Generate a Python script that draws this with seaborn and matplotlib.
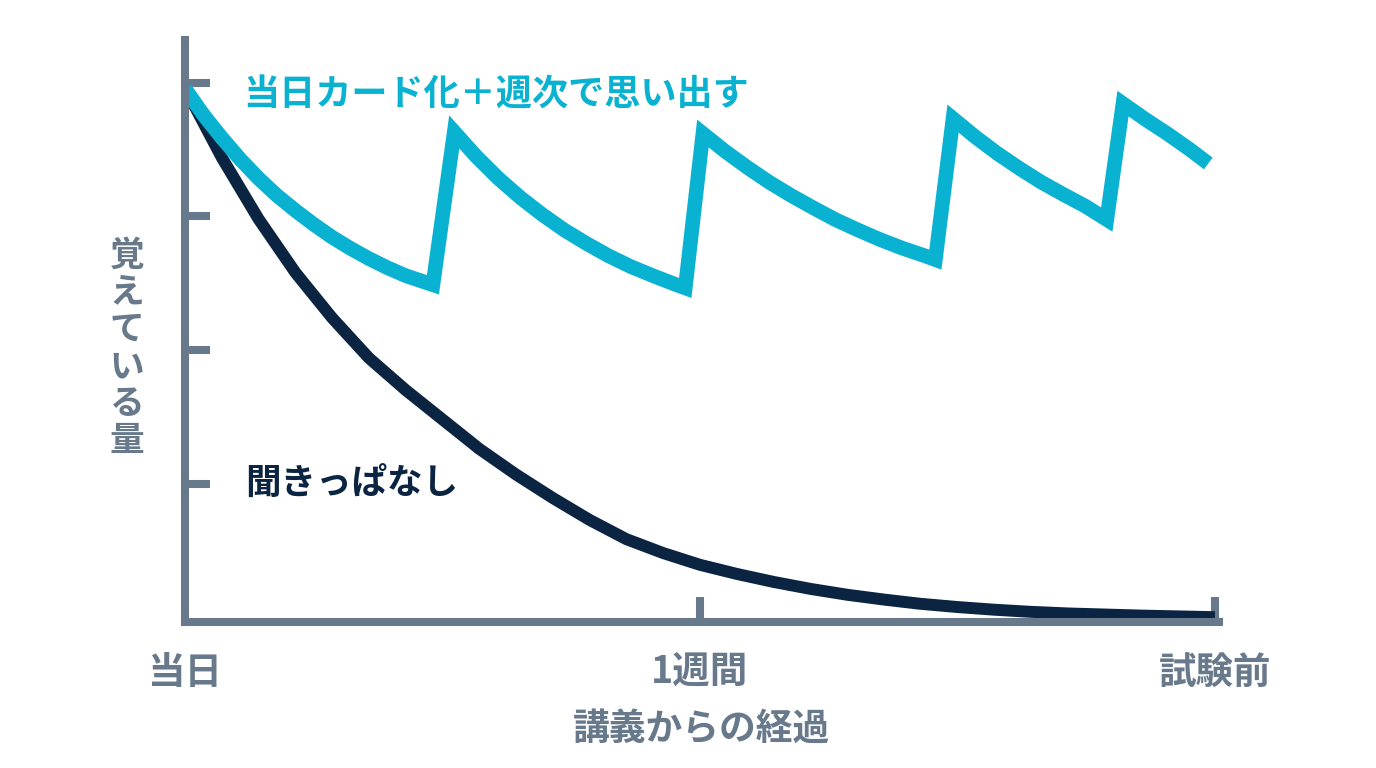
import pandas as pd
import matplotlib
matplotlib.use("Agg")
import matplotlib.pyplot as plt
import seaborn as sns

# Colours
CYAN = "#08b2d0"
NAVY = "#0b2442"
SLATE = "#68798b"

# Data (days since lecture, amount remembered)
review_days = [0.0, 0.25, 0.5, 0.75, 1.0, 1.25, 1.5, 1.75, 2.0, 2.25, 2.5, 2.75, 3.0, 3.37,
               3.66, 3.96, 4.26, 4.56, 4.86, 5.16, 5.46, 5.76, 6.06, 6.36, 6.66, 6.80,
               7.04, 7.34, 7.64, 7.94, 8.24, 8.54, 8.84, 9.14, 9.44, 9.74, 10.04, 10.20,
               10.44, 10.74, 11.04, 11.34, 11.64, 11.94, 12.24, 12.53,
               12.75, 13.05, 13.35, 13.65, 13.91]
review_vals = [98.9, 94.0, 89.7, 85.7, 82.1, 78.9, 76.1, 73.5, 71.1, 69.0, 67.1, 65.4, 63.9, 62.2,
               90.8, 86.2, 82.1, 78.5, 75.3, 72.4, 69.9, 67.6, 65.6, 63.9, 62.3, 61.6,
               90.5, 87.2, 84.2, 81.4, 78.9, 76.6, 74.4, 72.5, 70.7, 69.1, 67.7, 66.9,
               93.3, 89.9, 86.8, 84.0, 81.4, 79.1, 76.9, 74.4,
               96.1, 93.2, 90.5, 87.6, 84.9]

passive_days = [0.0, 0.5, 1.0, 1.5, 2.0, 2.5, 3.0, 3.5, 4.0, 4.5, 5.0, 5.5, 6.0, 6.5,
                7.0, 7.5, 8.0, 8.5, 9.0, 9.5, 10.0, 10.5, 11.0, 11.5, 12.0, 12.5,
                13.0, 13.5, 14.0]
passive_vals = [99.0, 86.0, 74.5, 64.5, 56.0, 48.5, 42.5, 37.0, 31.5, 26.7, 22.3, 18.2, 14.6, 12.0,
                9.8, 8.1, 6.6, 5.3, 4.2, 3.3, 2.5, 1.9, 1.4, 1.0, 0.7, 0.5,
                0.3, 0.15, 0.0]

x_ticks = [0, 7, 14]
x_labels = ["当日", "1週間", "試験前"]
y_ticks = [25, 50, 75, 100]

review_label = "当日カード化＋週次で思い出す"
passive_label = "聞きっぱなし"
x_title = "講義からの経過"
y_title = "覚えている量"

review = pd.DataFrame({"day": review_days, "memory": review_vals})
passive = pd.DataFrame({"day": passive_days, "memory": passive_vals})

sns.set_style("white")
plt.rcParams["font.family"] = ["Noto Sans CJK JP", "DejaVu Sans"]

fig = plt.figure(figsize=(13.76, 7.68), dpi=100)
ax = fig.add_axes([185 / 1376, 1 - 622 / 768, (1218.6 - 185) / 1376, (622 - 40) / 768])

sns.lineplot(data=passive, x="day", y="memory", ax=ax, color=NAVY, linewidth=8.6,
             estimator=None, sort=False)
sns.lineplot(data=review, x="day", y="memory", ax=ax, color=CYAN, linewidth=10.5,
             estimator=None, sort=False)
for ln in ax.get_lines():
    ln.set_solid_joinstyle("miter")
    ln.set_solid_capstyle("butt")

ax.set_xlim(0, 14.05)
ax.set_ylim(-0.9, 108)

for side in ["top", "right"]:
    ax.spines[side].set_visible(False)
for side in ["left", "bottom"]:
    ax.spines[side].set_color(SLATE)
    ax.spines[side].set_linewidth(5.8)
    ax.spines[side].set_capstyle("projecting")

ax.set_xticks(x_ticks)
ax.set_xticklabels(x_labels)
ax.set_yticks(y_ticks)
ax.set_yticklabels([])
ax.tick_params(axis="both", direction="in", length=18, width=5.8, color=SLATE,
               bottom=True, left=True)
ax.tick_params(axis="x", pad=22, labelsize=27, labelcolor=SLATE)
for lab in ax.get_xticklabels():
    lab.set_fontweight("bold")
ax.xaxis.get_major_ticks()[0].tick1line.set_visible(False)

ax.set_xlabel(x_title, fontsize=26.5, color=SLATE, fontweight="bold", labelpad=14)
ax.set_ylabel("\n".join(y_title), fontsize=25, color=SLATE, fontweight="bold",
              rotation=0, va="center", ha="center", linespacing=1.08)
ax.yaxis.set_label_coords(-0.056, 0.471)

ax.text(0.79, 97.6, review_label, color=CYAN, fontsize=26, fontweight="bold",
        va="center", ha="left")
ax.text(0.82, 25.0, passive_label, color=NAVY, fontsize=25.6, fontweight="bold",
        va="center", ha="left")

fig.savefig("out.png", dpi=100)
